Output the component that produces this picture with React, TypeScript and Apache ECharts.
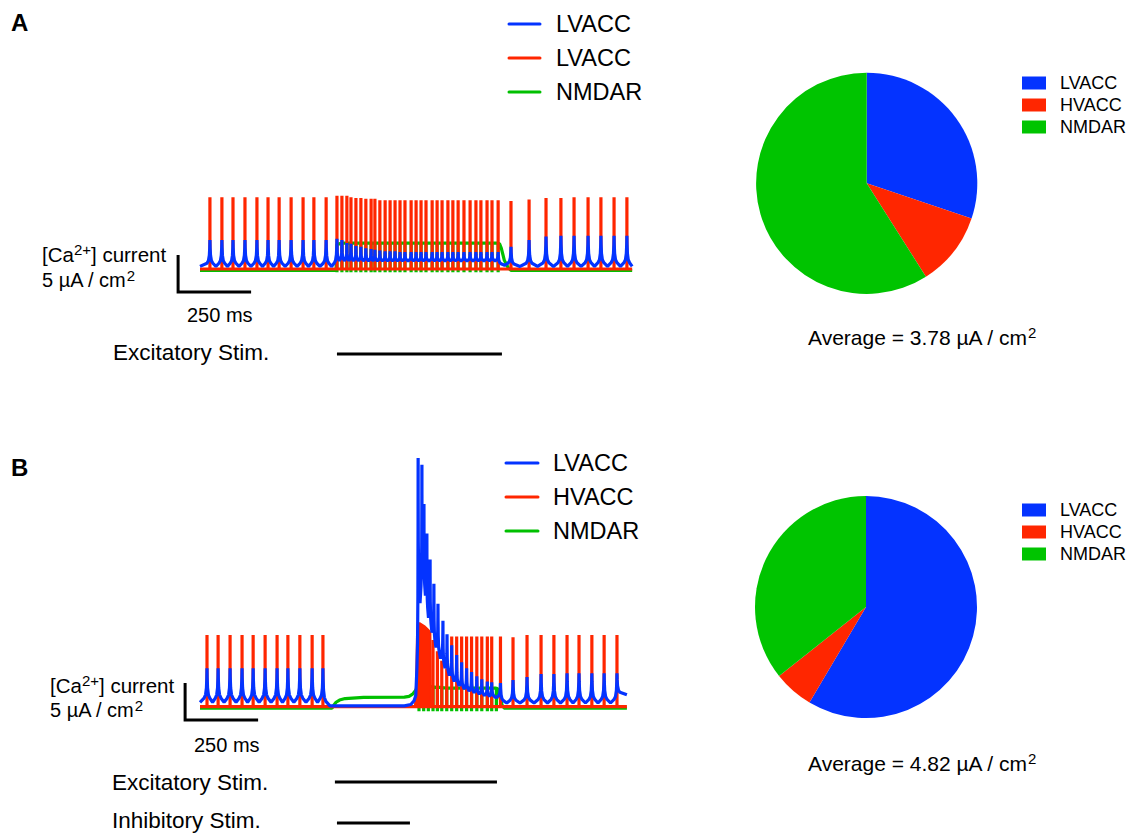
import React, { useEffect, useRef } from "react";
import * as echarts from "echarts";

const FONT = '"Liberation Sans", Arial, Helvetica, sans-serif';
const BLUE = "#0433FF";
const RED = "#FF2600";
const GREEN = "#00C000";
const PIE_GREEN = "#00C400";

// ---------------- shared scales ----------------
const X_MAX_MS = 1480;
const Y_RANGE_A = [-3, 16];
const Y_RANGE_B = [-3, 35];
const SCALE_MS = 250;
const SCALE_UA = 5;

// shape of one LVACC transient (fraction of half inter-spike gap, fraction of peak above trough)
const BLUE_CUSP_SHAPE = [
  [-0.5, 0.12], [-0.25, 0.22], [-0.1, 0.42], [-0.03, 0.72], [0, 1],
  [0.03, 0.72], [0.1, 0.42], [0.25, 0.22], [0.5, 0.12],
];

// ---------------- Panel A ----------------
const A_END_MS = 1480;
const A_SPIKE_MS = [
  34, 75, 113, 154, 195, 233, 271, 312, 353, 390, 432,
  469, 486, 503, 517, 534, 551, 568, 586, 599, 616, 634, 651, 668, 685, 702, 723,
  740, 757, 774, 795, 812, 829, 849, 866, 884, 904, 925, 945, 962, 983, 1000, 1021,
  1065, 1127, 1185, 1236, 1281, 1329, 1373, 1418, 1462,
];
const A_RED_PEAK = [
  9.7, 9.7, 9.7, 9.7, 9.7, 9.7, 9.7, 9.7, 9.7, 9.7, 9.7,
  9.9, 9.9, 9.9, 9.7, 9.6, 9.6, 9.5, 9.5, 9.5, 9.3, 9.3, 9.3, 9.3, 9.3, 9.3, 9.3,
  9.3, 9.3, 9.3, 9.3, 9.3, 9.3, 9.3, 9.3, 9.3, 9.3, 9.3, 9.3, 9.3, 9.3, 9.3, 9.3,
  9.2, 9.4, 9.6, 9.6, 9.7, 9.7, 9.7, 9.7, 9.7,
];
const A_BLUE_PEAK = [
  3.9, 3.9, 3.9, 3.9, 3.9, 3.9, 3.9, 3.9, 3.9, 3.9, 3.9,
  4.1, 3.9, 3.5, 3.4, 3.1, 3.0, 2.8, 2.7, 2.6, 2.5, 2.4, 2.4, 2.4, 2.3, 2.3, 2.3,
  2.3, 2.3, 2.3, 2.3, 2.3, 2.3, 2.3, 2.3, 2.3, 2.3, 2.3, 2.3, 2.3, 2.3, 2.3, 2.3,
  3.0, 3.9, 4.4, 4.5, 4.5, 4.5, 4.5, 4.5, 4.5,
];
const A_BLUE_TROUGH = [
  0.35, 0.35, 0.35, 0.35, 0.35, 0.35, 0.35, 0.35, 0.35, 0.35, 0.35, 0.35,
  1.1, 1.1, 1.1, 1.1, 1.1, 1.1, 1.1, 1.1, 1.1, 1.1, 1.1, 1.1, 1.1, 1.1, 1.1, 1.1,
  1.1, 1.1, 1.1, 1.1, 1.1, 1.1, 1.1, 1.1, 1.1, 1.1, 1.1, 1.1, 1.1, 1.1, 1.1,
  0.5, 0.35, 0.35, 0.35, 0.35, 0.35, 0.35, 0.35, 0.35, 0.35,
];
const A_GREEN_BEFORE = [[0, -0.2], [466, -0.2]];
const A_GREEN_TOP = [
  3.3, 3.5, 3.5, 3.5, 3.5, 3.5, 3.5, 3.5, 3.5, 3.5, 3.5, 3.5, 3.5, 3.5, 3.5, 3.5,
  3.5, 3.5, 3.5, 3.5, 3.5, 3.5, 3.5, 3.5, 3.5, 3.5, 3.5, 3.5, 3.5, 3.5, 3.5, 3.5,
];
const A_GREEN_BOTTOM = -0.45;
const A_GREEN_AFTER = [[1026, 3.4], [1032, 2.8], [1042, 1.2], [1055, 0.2], [1066, -0.2], [1480, -0.2]];
const A_EXC_STIM_MS = [469, 1034];

// ---------------- Panel B ----------------
const B_END_MS = 1462;
const B_RED_MS = [
  24, 62, 103, 144, 182, 223, 264, 301, 342, 384, 421,
  798, 813, 828, 845, 862, 879, 896, 913, 930, 948, 965, 984, 999, 1029,
  1072, 1120, 1168, 1212, 1257, 1298, 1342, 1384, 1428,
];
const B_RED_PEAK = [
  9.7, 9.7, 9.7, 9.7, 9.7, 9.7, 9.7, 9.7, 9.7, 9.7, 9.7,
  9.0, 7.5, 6.2, 5.2, 9.5, 9.5, 9.5, 9.5, 9.5, 9.5, 9.5, 9.5, 9.5, 9.5,
  9.4, 9.7, 9.7, 9.7, 9.7, 9.7, 9.7, 9.7, 9.7,
];
// dense HVACC burst at the release from inhibition
const B_RED_BURST = [
  [736, 0], [740, 3], [743, 9.5], [746, 11.2], [752, 11.3], [760, 11.1],
  [768, 10.9], [776, 10.6], [784, 10.3], [789, 10.0], [791, 0],
];
const B_PRE_MS = [24, 62, 103, 144, 182, 223, 264, 301, 342, 384, 421];
const B_BLUE_PRE_PEAK = [5.2, 5.2, 5.2, 5.2, 5.2, 5.2, 5.2, 5.2, 5.2, 5.2, 5.2];
const B_BLUE_PRE_TROUGH = [0.6, 0.6, 0.6, 0.6, 0.6, 0.6, 0.6, 0.6, 0.6, 0.6, 0.6, 0.12];
const B_BLUE_QUIET = [[445, 0.12], [700, 0.12], [722, 0.3], [733, 0.8]];
const B_BLUE_MS = [
  747, 760, 767, 777, 788, 801, 815, 832, 846, 862, 879, 896, 913, 930, 948, 965, 984, 999, 1029,
  1072, 1120, 1168, 1212, 1257, 1298, 1342, 1384, 1428,
];
const B_BLUE_PEAK = [
  33.6, 32.7, 27.4, 23.4, 19.9, 16.6, 13.9, 11.6, 9.8, 8.3, 7.0, 6.0, 5.2, 4.7, 4.1, 3.7, 3.4, 3.3, 3.2,
  3.6, 4.0, 4.4, 4.4, 4.5, 4.5, 4.5, 4.5, 4.5,
];
const B_BLUE_TROUGH = [
  1.5, 14, 18, 15, 12, 10, 8, 6.5, 5.2, 4.2, 3.4, 2.8, 2.4, 2.1, 1.9, 1.7, 1.5, 1.4, 1.2,
  0.5, 0.5, 0.5, 0.5, 0.5, 0.5, 0.5, 0.5, 0.5, 1.6,
];
const B_GREEN_BEFORE = [
  [0, -0.2], [452, -0.2], [458, 0.2], [466, 0.6], [478, 0.9], [497, 1.1], [560, 1.25],
  [700, 1.3], [716, 1.4], [728, 1.7], [738, 2.2],
];
const B_GREEN_DIP_MS = [750, 766, 782, 798, 813, 828, 845, 862, 879, 896, 913, 930, 948, 965, 984, 999, 1015];
const B_GREEN_TOP = [2.9, 2.9, 2.8, 2.7, 2.6, 2.6, 2.5, 2.5, 2.5, 2.5, 2.5, 2.5, 2.5, 2.5, 2.5, 2.5, 2.5];
const B_GREEN_BOTTOM = -0.6;
const B_GREEN_AFTER = [[1020, 2.4], [1026, 1.4], [1034, 0.3], [1042, -0.2], [1462, -0.2]];
const B_EXC_STIM_MS = [462, 1017];
const B_INH_STIM_MS = [469, 719];

// ---------------- Pies ----------------
const PIE_NAMES = ["LVACC", "HVACC", "NMDAR"];
const PIE_COLORS = [BLUE, RED, PIE_GREEN];
const PIE_A_VALUES = [1.14, 0.41, 2.23];
const PIE_B_VALUES = [2.82, 0.28, 1.72];
const AVG_A = "3.78";
const AVG_B = "4.82";
const TRACE_LEGEND_A = ["LVACC", "LVACC", "NMDAR"];
const TRACE_LEGEND_B = ["LVACC", "HVACC", "NMDAR"];
const TRACE_COLORS = [BLUE, RED, GREEN];

// ---------------- builders ----------------
function redTrace(times: number[], peaks: number[], end: number) {
  const d: number[][] = [[0, 0]];
  times.forEach((t, i) => {
    d.push([t, 0], [t, peaks[i]], [t, 0]);
  });
  d.push([end, 0]);
  return d;
}

function greenTrace(before: number[][], dips: number[], tops: number[], bottom: number, after: number[][]) {
  const d: number[][] = before.map((p) => p.slice());
  dips.forEach((t, i) => {
    d.push([t, tops[i]], [t, bottom], [t, tops[i]]);
  });
  return d.concat(after.map((p) => p.slice()));
}

function cuspTrace(times: number[], peaks: number[], troughs: number[], start: number, end: number, cap: number) {
  const d: number[][] = [[start, troughs[0]]];
  const n = times.length;
  for (let i = 0; i < n; i++) {
    const t = times[i];
    const p = peaks[i];
    const hl = Math.min(cap, i === 0 ? t - start : (t - times[i - 1]) / 2);
    const hr = Math.min(cap, i === n - 1 ? end - t : (times[i + 1] - t) / 2);
    const tl = troughs[i];
    const tr = troughs[i + 1];
    for (const [f, v] of BLUE_CUSP_SHAPE) {
      if (f < 0) d.push([t + f * hl, tl + v * (p - tl)]);
      else if (f === 0) d.push([t, p]);
      else d.push([t + f * hr, tr + v * (p - tr)]);
    }
    if (i < n - 1) d.push([(t + times[i + 1]) / 2, tr]);
  }
  d.push([end, troughs[n]]);
  return d;
}

function lineSeries(name: string, grid: number, data: number[][], color: string, z: number, extra: any = {}) {
  return {
    type: "line",
    name,
    xAxisIndex: grid,
    yAxisIndex: grid,
    data,
    showSymbol: false,
    symbol: "none",
    silent: true,
    clip: false,
    z,
    lineStyle: { width: 3.2, color, join: "bevel" },
    itemStyle: { color },
    emphasis: { disabled: true },
    ...extra,
  };
}

function pieSeries(center: number[], radius: number, values: number[]) {
  return {
    type: "pie",
    center,
    radius,
    startAngle: 90,
    clockwise: true,
    silent: true,
    label: { show: false },
    labelLine: { show: false },
    emphasis: { disabled: true },
    itemStyle: { borderWidth: 0 },
    data: PIE_NAMES.map((n, i) => ({ name: n, value: values[i], itemStyle: { color: PIE_COLORS[i] } })),
  };
}

function pieLegend(top: number) {
  return {
    data: PIE_NAMES,
    left: 1022,
    top,
    orient: "vertical",
    icon: "rect",
    itemWidth: 24,
    itemHeight: 13,
    itemGap: 4,
    padding: 0,
    selectedMode: false,
    textStyle: { fontSize: 18, fontFamily: FONT, color: "#000", padding: [0, 0, 0, 9] },
  };
}

const SUP = { fontSize: 15, fontFamily: FONT, verticalAlign: "top", lineHeight: 15, fill: "#000", color: "#000" };

function txt(str: string, x: number, y: number, size: number, extra: any = {}) {
  return {
    type: "text",
    x,
    y,
    silent: true,
    style: {
      text: str,
      fontSize: size,
      fontFamily: FONT,
      fill: "#000",
      textAlign: "left",
      textVerticalAlign: "middle",
      lineHeight: 24,
      rich: { sup: SUP },
      ...extra,
    },
  };
}

function buildOption() {
  const aStimDips = A_SPIKE_MS.filter((t) => t >= A_EXC_STIM_MS[0] && t <= A_EXC_STIM_MS[1]);
  const series: any[] = [
    lineSeries("NMDAR A", 0, greenTrace(A_GREEN_BEFORE, aStimDips, A_GREEN_TOP, A_GREEN_BOTTOM, A_GREEN_AFTER), GREEN, 2),
    lineSeries("HVACC A", 0, redTrace(A_SPIKE_MS, A_RED_PEAK, A_END_MS), RED, 3),
    lineSeries("LVACC A", 0, cuspTrace(A_SPIKE_MS, A_BLUE_PEAK, A_BLUE_TROUGH, 0, A_END_MS, 20), BLUE, 4),
    lineSeries("NMDAR B", 1, greenTrace(B_GREEN_BEFORE, B_GREEN_DIP_MS, B_GREEN_TOP, B_GREEN_BOTTOM, B_GREEN_AFTER), GREEN, 2),
    lineSeries("HVACC B", 1, redTrace(B_RED_MS, B_RED_PEAK, B_END_MS), RED, 3),
    lineSeries("HVACC B burst", 1, B_RED_BURST, RED, 3, { areaStyle: { color: RED, opacity: 1 }, lineStyle: { width: 2, color: RED } }),
    lineSeries(
      "LVACC B",
      1,
      cuspTrace(B_PRE_MS, B_BLUE_PRE_PEAK, B_BLUE_PRE_TROUGH, 0, 445, 20)
        .concat(B_BLUE_QUIET.map((p) => p.slice()))
        .concat(cuspTrace(B_BLUE_MS, B_BLUE_PEAK, B_BLUE_TROUGH, 739, B_END_MS, 20)),
      BLUE,
      4
    ),
    pieSeries([866.7, 183.3], 110.6, PIE_A_VALUES),
    pieSeries([866, 607], 111, PIE_B_VALUES),
  ];
  const pxPerUnit = 7.4;
  const baseA = 269;
  const baseB = 706.7;
  const pxPerMs = 0.292;
  return {
    animation: false,
    backgroundColor: "#fff",
    grid: [
      { left: 200, top: baseA - Y_RANGE_A[1] * pxPerUnit, width: X_MAX_MS * pxPerMs, height: (Y_RANGE_A[1] - Y_RANGE_A[0]) * pxPerUnit },
      { left: 200, top: baseB - Y_RANGE_B[1] * pxPerUnit, width: X_MAX_MS * pxPerMs, height: (Y_RANGE_B[1] - Y_RANGE_B[0]) * pxPerUnit },
    ],
    xAxis: [
      { type: "value", gridIndex: 0, min: 0, max: X_MAX_MS, show: false },
      { type: "value", gridIndex: 1, min: 0, max: X_MAX_MS, show: false },
    ],
    yAxis: [
      { type: "value", gridIndex: 0, min: Y_RANGE_A[0], max: Y_RANGE_A[1], show: false },
      { type: "value", gridIndex: 1, min: Y_RANGE_B[0], max: Y_RANGE_B[1], show: false },
    ],
    legend: [pieLegend(74), pieLegend(501)],
    series,
  };
}

function buildGraphic(chart: any) {
  const P = (gi: number, t: number, v: number) => chart.convertToPixel({ gridIndex: gi }, [t, v]) as number[];
  const els: any[] = [];
  // panel letters
  els.push(txt("A", 11, 22, 24, { fontWeight: "bold" }));
  els.push(txt("B", 11, 467, 24, { fontWeight: "bold" }));

  // trace legends
  const legend = (names: string[], x1: number, x2: number, tx: number, ys: number[]) => {
    names.forEach((n, i) => {
      els.push({ type: "line", silent: true, shape: { x1, y1: ys[i], x2, y2: ys[i] }, style: { stroke: TRACE_COLORS[i], lineWidth: 3, lineCap: "round" } });
      els.push(txt(n, tx, ys[i], 23.5));
    });
  };
  legend(TRACE_LEGEND_A, 509, 540, 556, [24, 58, 92]);
  legend(TRACE_LEGEND_B, 506, 538, 553, [463, 497, 531]);

  // scale bars (lengths come from the axes)
  const scaleBar = (gi: number, t0: number, v0: number) => {
    const a = P(gi, t0, v0 + SCALE_UA);
    const b = P(gi, t0, v0);
    const c = P(gi, t0 + SCALE_MS, v0);
    els.push({ type: "polyline", silent: true, shape: { points: [a, b, c] }, style: { stroke: "#000", lineWidth: 3, fill: null, lineJoin: "miter" } });
  };
  scaleBar(0, -75, -3.1);
  scaleBar(1, -51, -1.8);

  // stimulus bars
  const stim = (gi: number, range: number[], y: number) => {
    const x1 = P(gi, range[0], 0)[0];
    const x2 = P(gi, range[1], 0)[0];
    els.push({ type: "line", silent: true, shape: { x1, y1: y, x2, y2: y }, style: { stroke: "#000", lineWidth: 3 } });
  };
  stim(0, A_EXC_STIM_MS, 354);
  stim(1, B_EXC_STIM_MS, 782);
  stim(1, B_INH_STIM_MS, 823);

  // texts panel A
  els.push(txt("[Ca{sup|2+}] current", 42, 254, 20.5));
  els.push(txt("5 µA / cm{sup|2}", 42, 280, 20));
  els.push(txt(SCALE_MS + " ms", 187, 315, 20));
  els.push(txt("Excitatory Stim.", 113, 352, 22.5));
  els.push(txt("Average = " + AVG_A + " µA / cm{sup|2}", 808, 337, 21));
  // texts panel B
  els.push(txt("[Ca{sup|2+}] current", 50, 685, 20.5));
  els.push(txt("5 µA / cm{sup|2}", 50, 710, 20));
  els.push(txt(SCALE_MS + " ms", 194, 745, 20));
  els.push(txt("Excitatory Stim.", 112, 782, 22.5));
  els.push(txt("Inhibitory Stim.", 112, 820, 22.5));
  els.push(txt("Average = " + AVG_B + " µA / cm{sup|2}", 808, 763, 21));
  return els;
}

export default function App() {
  const ref = useRef<HTMLDivElement>(null);
  useEffect(() => {
    if (!ref.current) return;
    const chart = echarts.init(ref.current, undefined, { renderer: "svg" });
    chart.setOption(buildOption() as any);
    chart.setOption({ graphic: { elements: buildGraphic(chart) } } as any);
    return () => chart.dispose();
  }, []);
  return <div ref={ref} style={{ position: "fixed", left: 0, top: 0, width: 1133, height: 833, background: "#fff" }} />;
}
